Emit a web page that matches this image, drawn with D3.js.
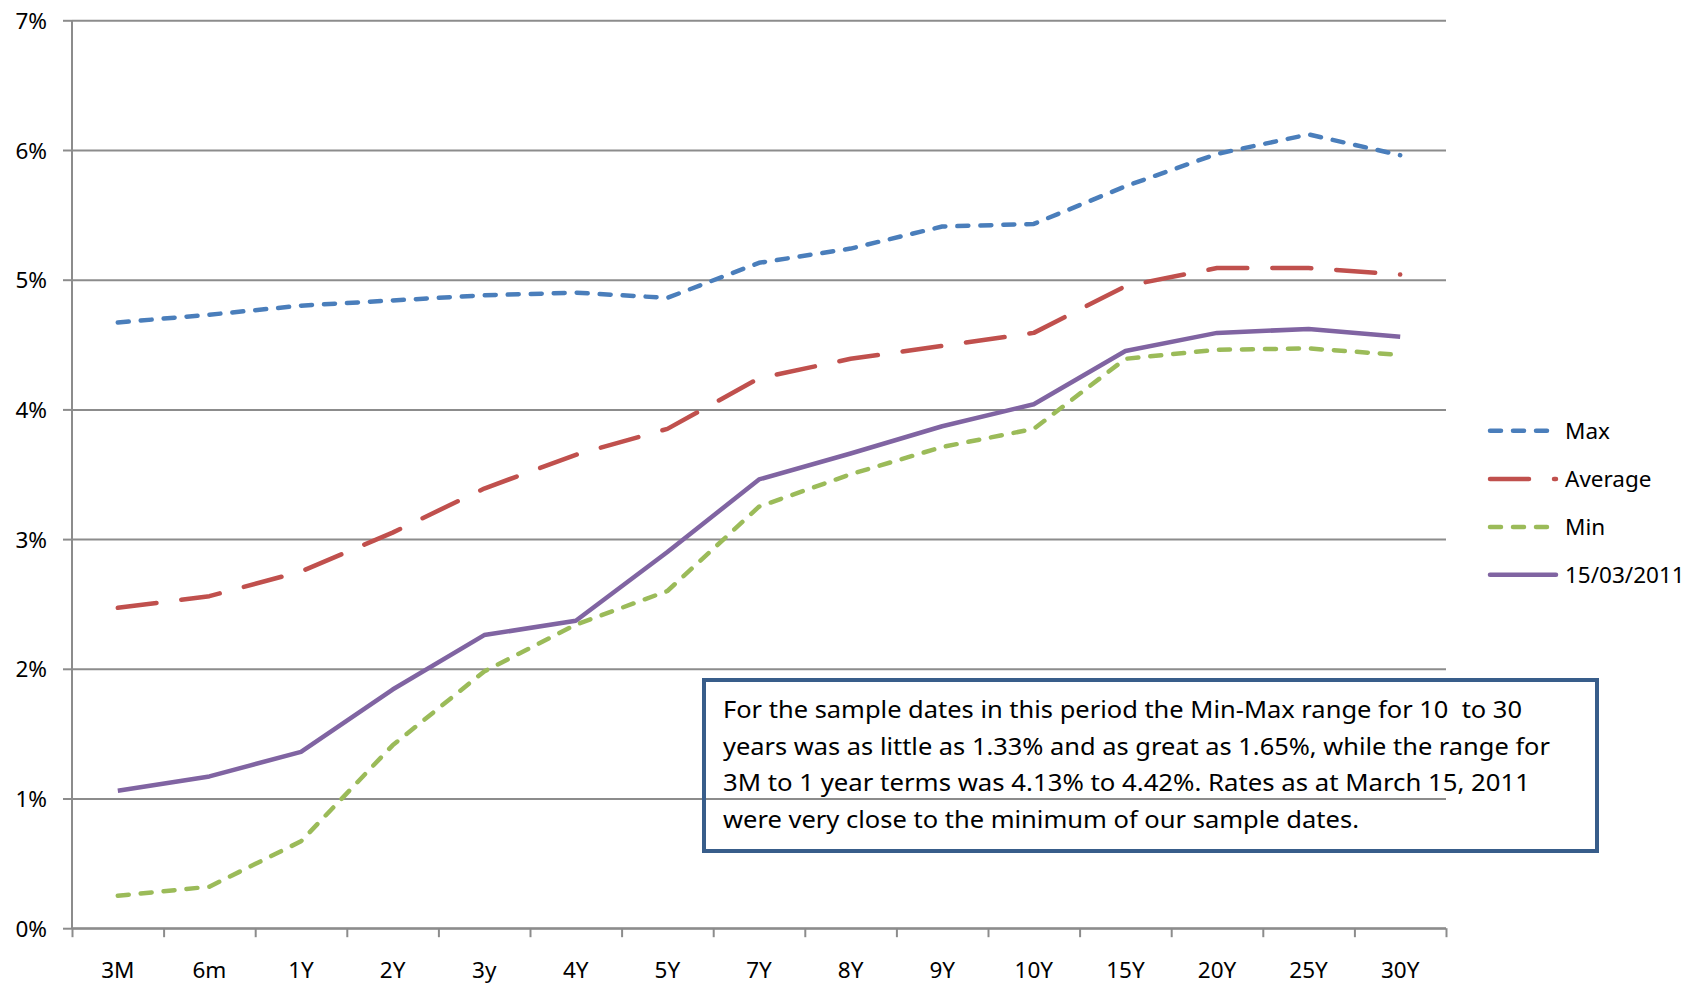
<!DOCTYPE html>
<html>
<head>
<meta charset="utf-8">
<script src="https://cdn.jsdelivr.net/npm/d3@7"></script>
<style>
  html, body { margin: 0; padding: 0; background: #fff; }
  svg { display: block; }
  text { font-family: "Noto Sans", "Open Sans", sans-serif; fill: #000; }
</style>
</head>
<body>
<svg id="chart" width="1690" height="996"></svg>
<script>
// ---- data ----
const categories = ["3M","6m","1Y","2Y","3y","4Y","5Y","7Y","8Y","9Y","10Y","15Y","20Y","25Y","30Y"];
const maxValues  = [4.67,4.73,4.80,4.84,4.88,4.90,4.86,5.13,5.24,5.41,5.43,5.72,5.97,6.12,5.96];
const avgValues  = [2.47,2.56,2.75,3.05,3.39,3.65,3.85,4.24,4.39,4.49,4.59,4.95,5.09,5.09,5.04];
const minValues  = [0.25,0.32,0.67,1.41,1.98,2.34,2.60,3.25,3.50,3.71,3.85,4.39,4.46,4.47,4.42];
const curValues  = [1.06,1.17,1.36,1.84,2.26,2.37,2.90,3.46,3.66,3.87,4.04,4.45,4.59,4.62,4.56];
const seriesNames = ["Max","Average","Min","15/03/2011"];
const yTicks = [0,1,2,3,4,5,6,7];
const noteLines = [
  "For the sample dates in this period the Min-Max range for 10  to 30",
  "years was as little as 1.33% and as great as 1.65%, while the range for",
  "3M to 1 year terms was 4.13% to 4.42%. Rates as at March 15, 2011",
  "were very close to the minimum of our sample dates."
];

// ---- styles ----
const styles = [
  {color:"#4A7EBB", dash:"11,12"},
  {color:"#C0504D", dash:"39,25"},
  {color:"#9BBB59", dash:"11,12"},
  {color:"#8064A2", dash:null}
];
const seriesData = [maxValues, avgValues, minValues, curValues];

const svg = d3.select("#chart");
const L = 72, R = 1446, T = 20.3, B = 928.2;
const gridColor = "#8C8C8C";
const labelFont = 22.5;

const x = d3.scaleBand().domain(categories).range([L, R]).padding(0);
const xEdge = d3.scaleLinear().domain([0, categories.length]).range([L, R]);
const y = d3.scaleLinear().domain([0, 7]).range([B, T]);

// gridlines
const grid = svg.append("g").attr("transform", `translate(${L},0)`)
  .call(d3.axisLeft(y).tickValues(yTicks).tickSize(-(R - L)).tickFormat(""));
grid.select(".domain").remove();
grid.selectAll("line").attr("stroke", gridColor).attr("stroke-width", 2);

// y axis
const yAx = svg.append("g").attr("transform", `translate(${L},0)`)
  .call(d3.axisLeft(y).tickValues(yTicks).tickSize(9).tickPadding(16).tickFormat(d => d + "%"));
yAx.select(".domain").attr("stroke", gridColor).attr("stroke-width", 2).attr("d", `M0,${B}V${T}`);
yAx.selectAll("line").attr("stroke", gridColor).attr("stroke-width", 2);
yAx.selectAll("text").attr("font-size", labelFont).attr("dy", "0.36em")
  .style("font-family", "'Noto Sans', sans-serif").attr("fill", "#000");

// x axis ticks at category boundaries
const xAx = svg.append("g").attr("transform", `translate(0,${B})`)
  .call(d3.axisBottom(xEdge).tickValues(d3.range(categories.length + 1)).tickSize(9).tickFormat(""));
xAx.select(".domain").attr("stroke", gridColor).attr("stroke-width", 2).attr("d", `M${L},0H${R}`);
xAx.selectAll("line").attr("stroke", gridColor).attr("stroke-width", 2);

// x labels
const xLab = svg.append("g").attr("transform", `translate(0,${B})`)
  .call(d3.axisBottom(x).tickSize(0).tickPadding(0));
xLab.select(".domain").remove();
xLab.selectAll("text").attr("font-size", labelFont).attr("y", 42).attr("dy", "0.36em")
  .style("font-family", "'Noto Sans', sans-serif").attr("fill", "#000");

// lines
const line = d3.line()
  .x((d, i) => x(categories[i]) + x.bandwidth() / 2)
  .y(d => y(d));

seriesData.forEach((vals, k) => {
  const p = svg.append("path").datum(vals)
    .attr("d", line)
    .attr("fill", "none")
    .attr("stroke", styles[k].color)
    .attr("stroke-width", 4.5)
    .attr("stroke-linejoin", "round")
    .attr("stroke-linecap", styles[k].dash ? "round" : "butt");
  if (styles[k].dash) p.attr("stroke-dasharray", styles[k].dash);
});

// legend
const legY = [430.7, 479, 527, 574.7];
seriesNames.forEach((name, k) => {
  const g = svg.append("g");
  const ln = g.append("line")
    .attr("x1", 1490).attr("x2", 1556)
    .attr("y1", legY[k]).attr("y2", legY[k])
    .attr("stroke", styles[k].color).attr("stroke-width", 4.5)
    .attr("stroke-linecap", "round");
  if (styles[k].dash) ln.attr("stroke-dasharray", styles[k].dash);
  g.append("text").attr("x", 1565).attr("y", legY[k]).attr("dy", "0.36em")
    .attr("font-size", labelFont).text(name);
});

// note box
svg.append("rect")
  .attr("x", 704).attr("y", 680).attr("width", 893).attr("height", 171)
  .attr("fill", "none").attr("stroke", "#385D8A").attr("stroke-width", 4);
const lineWidths = [799, 827, 807, 636];
const baselines = [717.5, 754.5, 791, 827.5];
noteLines.forEach((t, i) => {
  svg.append("text").attr("x", 723).attr("y", baselines[i])
    .attr("font-size", 24)
    .attr("textLength", lineWidths[i]).attr("lengthAdjust", "spacingAndGlyphs")
    .style("white-space", "pre")
    .text(t);
});
</script>
</body>
</html>
